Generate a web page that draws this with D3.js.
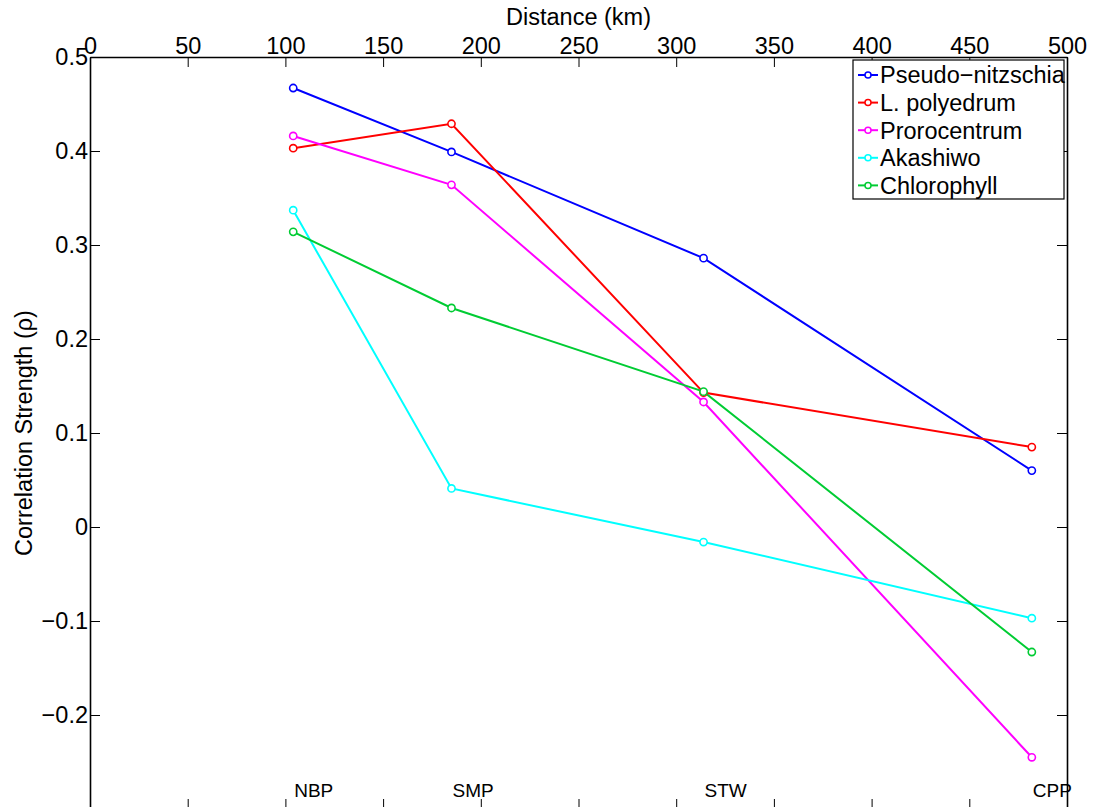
<!DOCTYPE html>
<html>
<head>
<meta charset="utf-8">
<script src="https://cdn.jsdelivr.net/npm/d3@7"></script>
<style>
  html, body { margin: 0; padding: 0; background: #fff; }
  svg { display: block; }
  text { font-family: "Liberation Sans", Arial, Helvetica, sans-serif; fill: #000; }
</style>
</head>
<body>
<svg id="chart" width="1101" height="807"></svg>
<script>
// ---- data ----
const sites = ["NBP", "SMP", "STW", "CPP"];
const distances = [104, 185, 314, 482];
const seriesNames = ["Pseudo\u2212nitzschia", "L. polyedrum", "Prorocentrum", "Akashiwo", "Chlorophyll"];
const pseudoNitzschia = [0.467, 0.399, 0.286, 0.060];
const lPolyedrum = [0.403, 0.429, 0.143, 0.085];
const prorocentrum = [0.416, 0.364, 0.133, -0.245];
const akashiwo = [0.337, 0.041, -0.016, -0.097];
const chlorophyll = [0.314, 0.233, 0.144, -0.133];
const seriesColors = ["#0000ff", "#ff0000", "#ff00ff", "#00ffff", "#00cc33"];
const xTicks = [0, 50, 100, 150, 200, 250, 300, 350, 400, 450, 500];
const yTicks = [-0.2, -0.1, 0, 0.1, 0.2, 0.3, 0.4, 0.5];

const seriesValues = [pseudoNitzschia, lPolyedrum, prorocentrum, akashiwo, chlorophyll];

const svg = d3.select("#chart");
const L = 90, R = 1067, T = 57, B = 809;
const x = d3.scaleLinear().domain([0, 500]).range([L, R]);
const y = d3.scaleLinear().domain([-0.3, 0.5]).range([B, T]);
const fmtY = v => (v < 0 ? "\u2212" : "") + d3.format("")(Math.abs(+v.toFixed(1)));

// axes
const fs = "23.5px";
const gTop = svg.append("g").attr("transform", `translate(0,${T})`)
  .call(d3.axisTop(x).tickValues(xTicks).tickSizeInner(-10).tickSizeOuter(0).tickPadding(3));
const gBot = svg.append("g").attr("transform", `translate(0,${B})`)
  .call(d3.axisBottom(x).tickValues(xTicks).tickSizeInner(-10).tickSizeOuter(0).tickFormat(""));
const gLeft = svg.append("g").attr("transform", `translate(${L},0)`)
  .call(d3.axisLeft(y).tickValues(yTicks).tickSizeInner(-10).tickSizeOuter(0).tickPadding(2).tickFormat(fmtY));
const gRight = svg.append("g").attr("transform", `translate(${R},0)`)
  .call(d3.axisRight(y).tickValues(yTicks).tickSizeInner(-10).tickSizeOuter(0).tickFormat(""));

[gTop, gBot, gLeft, gRight].forEach(g => {
  g.select(".domain").attr("stroke", "#000").attr("stroke-width", 1.6);
  g.selectAll(".tick line").attr("stroke", "#000").attr("stroke-width", 1);
  g.selectAll("text").style("font-size", fs).attr("fill", "#000")
    .style("font-family", '"Liberation Sans", Arial, sans-serif');
});

// lines
const line = d3.line().x((d, i) => x(distances[i])).y(d => y(d));
const gSeries = svg.append("g");
seriesValues.forEach((vals, k) => {
  gSeries.append("path").datum(vals).attr("d", line)
    .attr("fill", "none").attr("stroke", seriesColors[k]).attr("stroke-width", 2);
});
seriesValues.forEach((vals, k) => {
  gSeries.selectAll(null).data(vals).enter().append("circle")
    .attr("cx", (d, i) => x(distances[i])).attr("cy", d => y(d)).attr("r", 3.6)
    .attr("fill", "#fff").attr("stroke", seriesColors[k]).attr("stroke-width", 1.6);
});

// site labels
svg.append("g").selectAll("text").data(sites).enter().append("text")
  .attr("x", (d, i) => x(distances[i]) + 1).attr("y", 797)
  .style("font-size", "19px").text(d => d);

// axis titles
svg.append("text").attr("x", (L + R) / 2).attr("y", 25).attr("text-anchor", "middle")
  .style("font-size", fs).text("Distance (km)");
svg.append("text").attr("transform", `translate(32,${(T + B) / 2}) rotate(-90)`)
  .attr("text-anchor", "middle").style("font-size", fs).text("Correlation Strength (\u03c1)");

// legend
const lg = svg.append("g").attr("transform", "translate(853,60)");
lg.append("rect").attr("width", 211).attr("height", 139)
  .attr("fill", "#fff").attr("stroke", "#000").attr("stroke-width", 1.2);
seriesNames.forEach((name, k) => {
  const yy = 15 + k * 27.6;
  lg.append("line").attr("x1", 5).attr("x2", 25).attr("y1", yy).attr("y2", yy)
    .attr("stroke", seriesColors[k]).attr("stroke-width", 2);
  lg.append("circle").attr("cx", 15).attr("cy", yy).attr("r", 3)
    .attr("fill", "#fff").attr("stroke", seriesColors[k]).attr("stroke-width", 1.5);
  lg.append("text").attr("x", 27).attr("y", yy).attr("dy", "0.36em")
    .style("font-size", fs).text(name);
});
</script>
</body>
</html>
